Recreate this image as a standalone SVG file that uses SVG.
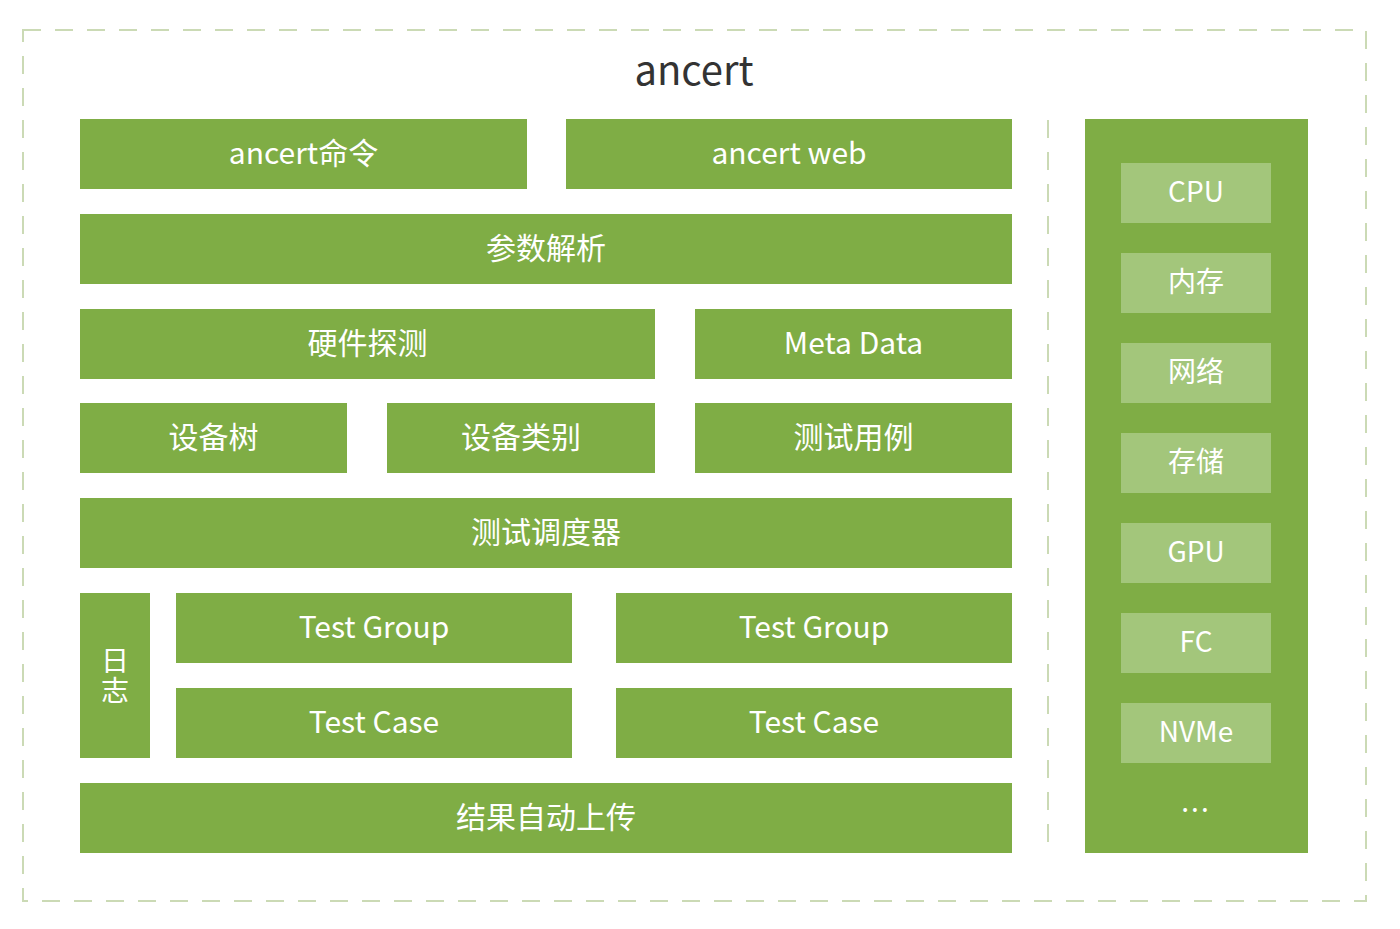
<svg xmlns="http://www.w3.org/2000/svg" width="1400" height="929" viewBox="0 0 1400 929">
<style>
.b{fill:#7fad45}
.i{fill:#a3c67b}
.t{font-family:"Noto Sans CJK SC","Noto Sans",sans-serif;font-size:30px;fill:#ffffff;text-anchor:middle;dominant-baseline:central}
.s{font-size:28px}
.d{fill:none;stroke:#cbdab5;stroke-width:2;stroke-dasharray:18 14}
</style>
<rect width="1400" height="929" fill="#ffffff"/>
<g id="frame">
<rect class="d" x="23" y="30" width="1343" height="871"/>
<line class="d" x1="1048" y1="120" x2="1048" y2="845"/>
<text x="694" y="68" font-family="Noto Sans CJK SC,Noto Sans,sans-serif" font-size="40" fill="#333333" text-anchor="middle" dominant-baseline="central">ancert</text>
</g>
<g id="connectors"></g>
<g id="n-cmd"><rect class="b" x="80" y="119" width="447" height="70"/><text class="t" x="303.5" y="151">ancert命令</text></g>
<g id="n-web"><rect class="b" x="566" y="119" width="446" height="70"/><text class="t" x="789" y="151">ancert web</text></g>
<g id="n-parse"><rect class="b" x="80" y="214" width="932" height="70"/><text class="t" x="546" y="246">参数解析</text></g>
<g id="n-hw"><rect class="b" x="80" y="309" width="575" height="70"/><text class="t" x="367.5" y="341">硬件探测</text></g>
<g id="n-meta"><rect class="b" x="695" y="309" width="317" height="70"/><text class="t" x="853.5" y="341">Meta Data</text></g>
<g id="n-tree"><rect class="b" x="80" y="403" width="267" height="70"/><text class="t" x="213.5" y="435">设备树</text></g>
<g id="n-cat"><rect class="b" x="387" y="403" width="268" height="70"/><text class="t" x="521" y="435">设备类别</text></g>
<g id="n-case"><rect class="b" x="695" y="403" width="317" height="70"/><text class="t" x="853.5" y="435">测试用例</text></g>
<g id="n-sched"><rect class="b" x="80" y="498" width="932" height="70"/><text class="t" x="546" y="530">测试调度器</text></g>
<g id="n-log"><rect class="b" x="80" y="593" width="70" height="165"/><text class="t s" x="115" y="676" writing-mode="vertical-rl" letter-spacing="2">日志</text></g>
<g id="n-tg1"><rect class="b" x="176" y="593" width="396" height="70"/><text class="t" x="374" y="625">Test Group</text></g>
<g id="n-tg2"><rect class="b" x="616" y="593" width="396" height="70"/><text class="t" x="814" y="625">Test Group</text></g>
<g id="n-tc1"><rect class="b" x="176" y="688" width="396" height="70"/><text class="t" x="374" y="720">Test Case</text></g>
<g id="n-tc2"><rect class="b" x="616" y="688" width="396" height="70"/><text class="t" x="814" y="720">Test Case</text></g>
<g id="n-upload"><rect class="b" x="80" y="783" width="932" height="70"/><text class="t" x="546" y="815">结果自动上传</text></g>
<g id="n-devices">
<rect class="b" x="1085" y="119" width="223" height="734"/>
<g id="d-cpu"><rect class="i" x="1121" y="163" width="150" height="60"/><text class="t s" x="1196" y="190">CPU</text></g>
<g id="d-mem"><rect class="i" x="1121" y="253" width="150" height="60"/><text class="t s" x="1196" y="280">内存</text></g>
<g id="d-net"><rect class="i" x="1121" y="343" width="150" height="60"/><text class="t s" x="1196" y="370">网络</text></g>
<g id="d-sto"><rect class="i" x="1121" y="433" width="150" height="60"/><text class="t s" x="1196" y="460">存储</text></g>
<g id="d-gpu"><rect class="i" x="1121" y="523" width="150" height="60"/><text class="t s" x="1196" y="550">GPU</text></g>
<g id="d-fc"><rect class="i" x="1121" y="613" width="150" height="60"/><text class="t s" x="1196" y="640">FC</text></g>
<g id="d-nvme"><rect class="i" x="1121" y="703" width="150" height="60"/><text class="t s" x="1196" y="730">NVMe</text></g>
<text class="t s" x="1196" y="800" letter-spacing="2">...</text>
</g>
</svg>
